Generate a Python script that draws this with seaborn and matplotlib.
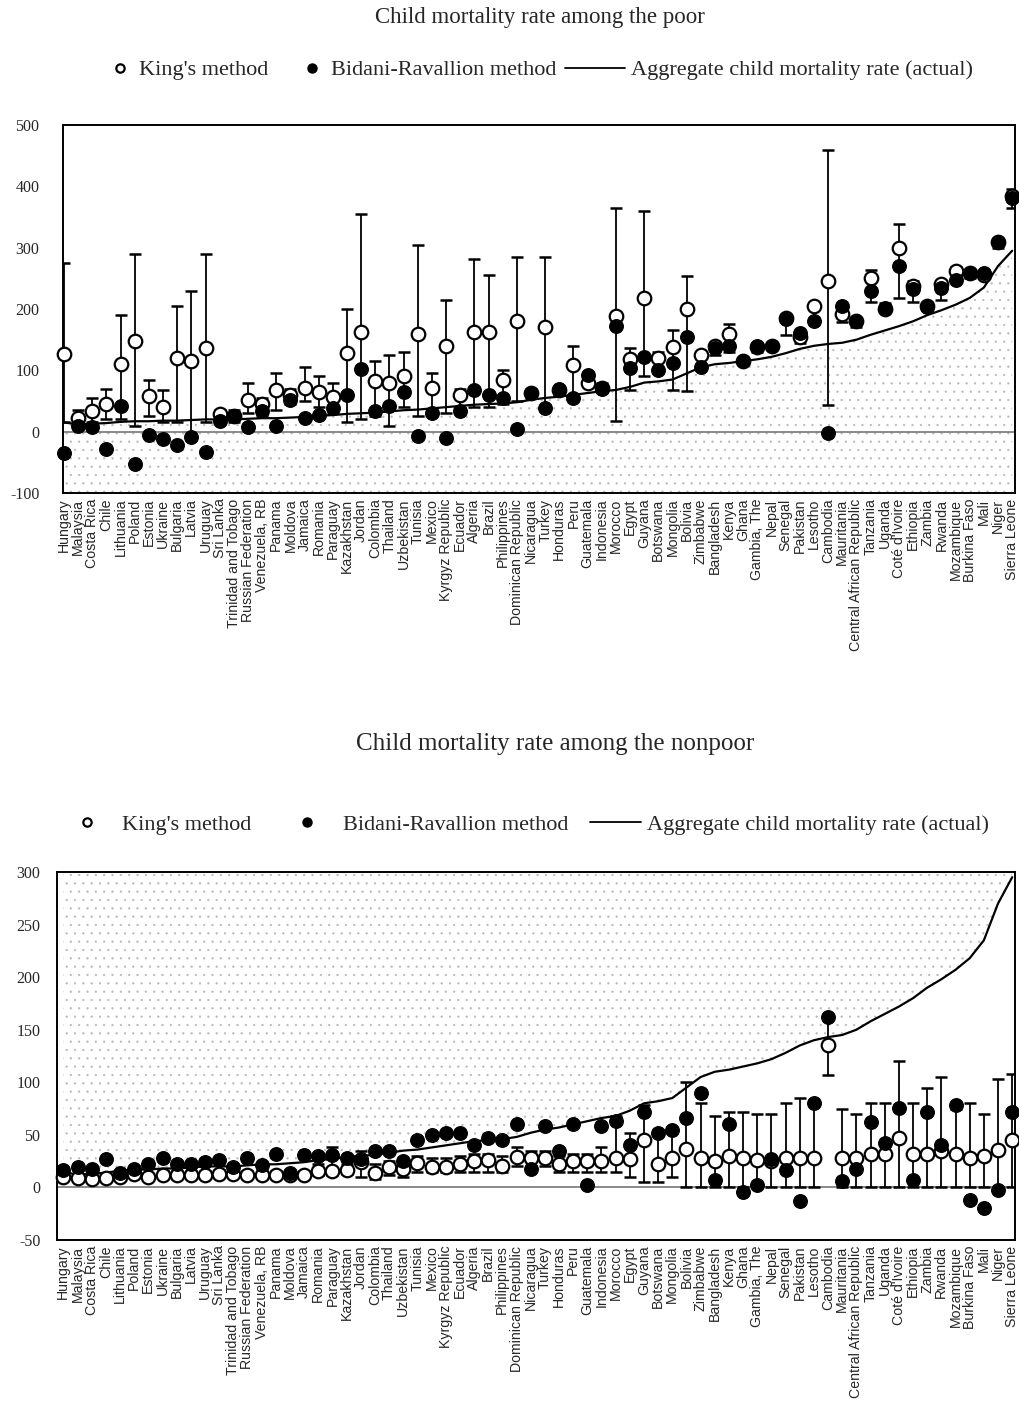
import numpy as np
import pandas as pd
import matplotlib
matplotlib.use("Agg")
import matplotlib.pyplot as plt
from matplotlib.lines import Line2D
import seaborn as sns

countries = ["Hungary", "Malaysia", "Costa Rica", "Chile", "Lithuania", "Poland", "Estonia",
             "Ukraine", "Bulgaria", "Latvia", "Uruguay", "Sri Lanka", "Trinidad and Tobago",
             "Russian Federation", "Venezuela, RB", "Panama", "Moldova", "Jamaica", "Romania",
             "Paraguay", "Kazakhstan", "Jordan", "Colombia", "Thailand", "Uzbekistan", "Tunisia",
             "Mexico", "Kyrgyz Republic", "Ecuador", "Algeria", "Brazil", "Philippines",
             "Dominican Republic", "Nicaragua", "Turkey", "Honduras", "Peru", "Guatemala",
             "Indonesia", "Morocco", "Egypt", "Guyana", "Botswana", "Mongolia", "Bolivia",
             "Zimbabwe", "Bangladesh", "Kenya", "Ghana", "Gambia, The", "Nepal", "Senegal",
             "Pakistan", "Lesotho", "Cambodia", "Mauritania", "Central African Republic",
             "Tanzania", "Uganda", "Coté d'Ivoire", "Ethiopia", "Zambia", "Rwanda", "Mozambique",
             "Burkina Faso", "Mali", "Niger", "Sierra Leone"]

aggregate = [15, 12, 13, 14, 16, 17, 17, 18, 18, 19, 20, 20, 20, 21, 22, 22, 23, 24, 26, 27,
             29, 30, 31, 33, 35, 36, 38, 40, 42, 44, 45, 46, 48, 52, 55, 57, 60, 63, 66, 68,
             73, 80, 82, 85, 95, 105, 110, 112, 115, 118, 122, 128, 135, 140, 143, 145, 150,
             158, 165, 172, 180, 190, 198, 207, 218, 235, 270, 295]

# Poor
poor_king = [127, 22, 33, 45, 110, 148, 58, 40, 120, 115, 137, 28, 25, 52, 45, 68, 60, 72, 65, 57,
             128, 163, 82, 80, 90, 160, 72, 140, 60, 163, 163, 85, 180, 63, 170, 68, 108, 80, 72,
             188, 118, 218, 120, 138, 200, 125, 140, 160, 115, 138, 140, 185, 155, 205, 245, 192,
             180, 250, 200, 300, 238, 205, 240, 262, 258, 256, 310, 385]
poor_br = [-35, 10, 7, -28, 42, -52, -5, -12, -22, -8, -33, 17, 25, 8, 33, 10, 52, 22, 27, 38,
           60, 102, 33, 42, 65, -7, 30, -10, 33, 68, 60, 55, 5, 63, 38, 70, 55, 93, 70,
           172, 104, 122, 101, 112, 155, 106, 137, 139, 116, 139, 139, 184, 161, 180, -2, 205,
           180, 229, 202, 270, 232, 204, 235, 248, 259, 259, 309, 381]
poor_lo = [15, 10, 15, 20, 20, 10, 25, 15, 15, -5, 15, 18, 15, 30, 25, 35, 45, 50, 40, 30,
           15, 20, 25, 10, 40, 25, 30, 30, 30, 40, 40, 45, 50, 55, 40, 60, 52, 75, 65,
           17, 68, 90, 95, 68, 67, 110, 125, 130, 110, 130, 135, 158, 145, 175, 44, 178,
           170, 212, 195, 218, 211, 200, 215, 250, 250, 250, 300, 365]
poor_hi = [275, 35, 55, 70, 190, 290, 85, 68, 205, 230, 290, 35, 35, 80, 55, 95, 70, 105, 90, 80,
           200, 355, 115, 125, 130, 305, 95, 215, 70, 282, 255, 100, 285, 70, 285, 75, 140, 95, 80,
           364, 137, 359, 130, 165, 253, 130, 145, 176, 120, 145, 145, 190, 160, 210, 459, 200,
           185, 263, 210, 339, 245, 210, 245, 268, 262, 262, 312, 395]

# Nonpoor
nonpoor_king = [10, 9, 8, 9, 10, 13, 10, 12, 12, 12, 12, 13, 13, 12, 12, 12, 12, 12, 16, 16,
                17, 24, 14, 19, 18, 23, 19, 19, 22, 25, 26, 20, 29, 28, 28, 22, 25, 25, 25,
                28, 27, 45, 22, 28, 37, 28, 25, 30, 28, 26, 25, 28, 28, 28, 135, 28,
                28, 32, 32, 47, 32, 32, 35, 32, 28, 30, 36, 45]
nonpoor_br = [17, 19, 18, 27, 14, 18, 22, 28, 22, 22, 24, 26, 19, 28, 21, 32, 14, 31, 30, 31,
              28, 27, 35, 35, 25, 45, 50, 52, 52, 40, 47, 45, 60, 18, 58, 35, 60, 2, 58,
              63, 40, 72, 52, 55, 66, 90, 7, 60, -4, 2, 27, 17, -13, 80, 162, 6,
              18, 62, 42, 76, 7, 72, 40, 78, -12, -20, -2, 72]
nonpoor_lo = [7, 6, 5, 6, 7, 10, 7, 9, 9, 9, 9, 10, 10, 9, 9, 9, 9, 9, 12, 12,
              13, 10, 8, 12, 10, 15, 15, 15, 15, 15, 15, 15, 20, 20, 20, 15, 15, 15, 15,
              15, 10, 5, 5, 10, 0, 0, 0, 0, 0, 0, 0, 0, 0, 0, 107, 0,
              0, 0, 0, 0, 0, 0, 0, 0, 0, 0, 0, 0]
nonpoor_hi = [14, 13, 12, 13, 14, 17, 14, 16, 16, 16, 16, 17, 17, 16, 16, 16, 16, 16, 22, 38,
              22, 35, 22, 25, 25, 30, 28, 28, 30, 32, 32, 30, 38, 35, 35, 30, 32, 32, 38,
              68, 52, 78, 55, 55, 100, 80, 68, 72, 72, 70, 70, 80, 85, 80, 160, 75,
              70, 80, 80, 120, 80, 95, 105, 75, 80, 70, 103, 108]

legend_labels = ["King's method", "Bidani-Ravallion method",
                 "Aggregate child mortality rate (actual)"]

n = len(countries)
pos = np.arange(n)

sns.set_theme(style="white")
plt.rcParams["font.family"] = ["Liberation Serif", "DejaVu Serif"]
plt.rcParams["hatch.linewidth"] = 0.4

fig = plt.figure(figsize=(10.19, 14.2), dpi=100)

serif = ["Liberation Serif", "DejaVu Serif"]
sans = ["Liberation Sans", "DejaVu Sans"]


def panel(rect, king, br, lo, hi, ylim, yticks, fill_below, xlim_left, title, title_xy,
          title_size, leg_y, leg1_x, leg2_x, colspacing, textpad, line_len, ytick_len, ytick_pad):
    ax = fig.add_axes(rect)
    df = pd.DataFrame({"pos": pos, "country": countries, "agg": aggregate,
                       "king": king, "br": br, "lo": lo, "hi": hi})
    if fill_below:
        ax.fill_between(df["pos"], ylim[0], df["agg"], facecolor="none", edgecolor="#b8b8b8",
                        hatch="..", linewidth=0, zorder=0)
    else:
        ax.fill_between(df["pos"], df["agg"], ylim[1], facecolor="none", edgecolor="#b8b8b8",
                        hatch="..", linewidth=0, zorder=0)
    ax.axhline(0, color="#777777", lw=1.2, zorder=1)
    sns.lineplot(data=df, x="pos", y="agg", color="black", lw=1.6, ax=ax, zorder=2,
                 legend=False)
    yerr = np.vstack([df["king"] - df["lo"], df["hi"] - df["king"]])
    ax.errorbar(df["pos"], df["king"], yerr=yerr, fmt="none", ecolor="black", elinewidth=1.3,
                capsize=4.5, capthick=1.8, zorder=3)
    sns.scatterplot(data=df, x="pos", y="king", marker="o", s=95, facecolor="white",
                    edgecolor="black", linewidth=1.6, ax=ax, zorder=4, legend=False,
                    clip_on=False)
    sns.scatterplot(data=df, x="pos", y="br", marker="o", s=95, color="black",
                    edgecolor="black", linewidth=1.0, ax=ax, zorder=5, legend=False,
                    clip_on=False)
    ax.set_xlim(xlim_left, n - 0.8)
    ax.set_ylim(*ylim)
    ax.set_yticks(yticks)
    ax.set_yticklabels([str(t) for t in yticks], family=serif, fontsize=11.5)
    ax.set_xticks(pos)
    ax.set_xticklabels(countries, rotation=90, family=sans, fontsize=10.2, va="top")
    ax.tick_params(axis="x", direction="out", length=3, width=1, color="black", pad=1)
    ax.tick_params(axis="y", direction="out", length=ytick_len, width=1, color="black",
                   pad=ytick_pad)
    ax.set_xlabel("")
    ax.set_ylabel("")
    for sp in ax.spines.values():
        sp.set_color("black")
        sp.set_linewidth(1.4)
    marker_handles = [
        Line2D([], [], marker="o", ls="none", markerfacecolor="white", markeredgecolor="black",
               markersize=6, markeredgewidth=1.6),
        Line2D([], [], marker="o", ls="none", markerfacecolor="black", markeredgecolor="black",
               markersize=6.5),
    ]
    line_handle = Line2D([], [], color="black", lw=1.3)
    prop = {"family": serif, "size": 16}
    leg1 = ax.legend(marker_handles, legend_labels[:2], ncol=2, loc="center left",
                     bbox_to_anchor=(leg1_x, leg_y), frameon=False, prop=prop,
                     handlelength=0.6, handletextpad=textpad, columnspacing=colspacing,
                     borderpad=0, borderaxespad=0)
    ax.add_artist(leg1)
    ax.legend([line_handle], legend_labels[2:], loc="center left",
              bbox_to_anchor=(leg2_x, leg_y), frameon=False, prop=prop,
              handlelength=line_len, handletextpad=0.25, borderpad=0, borderaxespad=0)
    fig.text(title_xy[0], title_xy[1], title, ha="center", va="center", family=serif,
             fontsize=title_size)
    return ax


panel([63 / 1019, 1 - 493 / 1420, 952 / 1019, 368 / 1420], poor_king, poor_br, poor_lo, poor_hi,
      (-100, 500), [-100, 0, 100, 200, 300, 400, 500], True, -0.07,
      "Child mortality rate among the poor", (540 / 1019, 1 - 18 / 1420), 16.5,
      1 + 55 / 368, (113 - 63) / 952, (565 - 63) / 952, 1.7, 0.55, 2.7, 6, 11)

panel([57 / 1019, 1 - 1240 / 1420, 958 / 1019, 368 / 1420], nonpoor_king, nonpoor_br,
      nonpoor_lo, nonpoor_hi,
      (-50, 300), [-50, 0, 50, 100, 150, 200, 250, 300], False, -0.45,
      "Child mortality rate among the nonpoor", (555 / 1019, 1 - 744 / 1420), 18,
      1 + 47 / 368, (80 - 57) / 958, (590 - 57) / 958, 2.2, 1.3, 2.3, 4, 8)

fig.savefig("out.png", dpi=100)
